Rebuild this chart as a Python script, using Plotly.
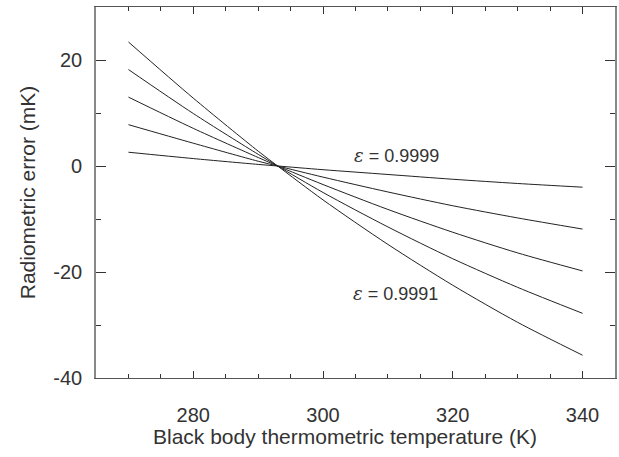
import plotly.graph_objects as go

temperature = [270, 280, 290, 293, 300, 310, 320, 330, 340]
err_09999 = [2.6, 1.4, 0.3, 0.0, -0.7, -1.6, -2.5, -3.3, -4.0]
err_09997 = [7.8, 4.3, 0.9, 0.0, -2.1, -4.9, -7.5, -9.8, -11.9]
err_09995 = [13.0, 7.1, 1.6, 0.0, -3.5, -8.2, -12.5, -16.4, -19.8]
err_09993 = [18.2, 9.9, 2.2, 0.0, -5.0, -11.5, -17.5, -22.9, -27.8]
err_09991 = [23.4, 12.8, 2.8, 0.0, -6.4, -14.8, -22.5, -29.5, -35.7]
series = [err_09999, err_09997, err_09995, err_09993, err_09991]

x_ticks = [280, 300, 320, 340]
y_ticks = [-40, -20, 0, 20]

FONT = "Liberation Sans, Arial, Helvetica, sans-serif"

fig = go.Figure()
for s in series:
    fig.add_trace(go.Scatter(x=temperature, y=s, mode="lines",
                             line=dict(color="#222222", width=1, shape="spline", smoothing=0.8),
                             showlegend=False, hoverinfo="skip"))

fig.add_annotation(x=311.3, y=1.9, xref="x", yref="y", showarrow=False,
                   text="<span style='font-family:DejaVu Serif'><i>ε</i></span> = 0.9999",
                   font=dict(family=FONT, size=18, color="#333333"))
fig.add_annotation(x=311.1, y=-24.0, xref="x", yref="y", showarrow=False,
                   text="<span style='font-family:DejaVu Serif'><i>ε</i></span> = 0.9991",
                   font=dict(family=FONT, size=18, color="#333333"))
fig.add_annotation(x=0.48, y=-0.159, xref="paper", yref="paper", showarrow=False,
                   xanchor="center", yanchor="middle",
                   text="Black body thermometric temperature (K)",
                   font=dict(family=FONT, size=21, color="#333333"))

fig.update_layout(
    width=619, height=457,
    margin=dict(l=96, r=2, t=7, b=79),
    paper_bgcolor="white", plot_bgcolor="white",
    font=dict(family=FONT, color="#333333"),
)
fig.update_xaxes(
    range=[265, 345], tickvals=x_ticks, ticktext=[str(v) for v in x_ticks],
    ticks="inside", ticklen=7, tickwidth=1, tickcolor="#333333",
    minor=dict(dtick=5, tick0=265, ticks="inside", ticklen=4, tickcolor="#333333", tickwidth=1),
    showline=True, linecolor="#555555", linewidth=1.3, mirror="ticks",
    showgrid=False, zeroline=False,
    tickfont=dict(family=FONT, size=20, color="#333333"),
    ticklabelstandoff=19,
)
fig.update_yaxes(
    range=[-40, 30], tickvals=y_ticks, ticktext=[str(v) for v in y_ticks],
    ticks="inside", ticklen=10, tickwidth=1, tickcolor="#333333",
    minor=dict(dtick=10, tick0=-40, ticks="inside", ticklen=5, tickcolor="#333333", tickwidth=1),
    showline=True, linecolor="#888888", linewidth=1.6, mirror="ticks",
    showgrid=False, zeroline=False,
    tickfont=dict(family=FONT, size=20, color="#333333"),
    ticklabelstandoff=8,
    title=dict(text="Radiometric error (mK)",
               font=dict(family=FONT, size=21, color="#333333"), standoff=12),
)

fig.write_html("out.html")
